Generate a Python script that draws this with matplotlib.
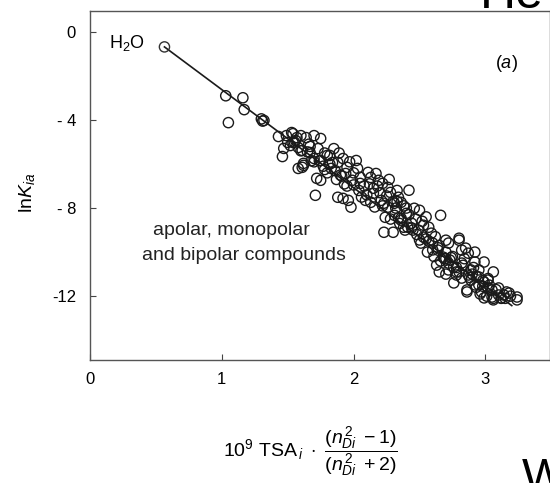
import matplotlib
matplotlib.use('Agg')
import matplotlib.pyplot as plt

plt.rcParams['font.family'] = ['Liberation Sans', 'DejaVu Sans']
plt.rcParams['mathtext.fontset'] = 'custom'
plt.rcParams['mathtext.rm'] = 'Liberation Sans'
plt.rcParams['mathtext.it'] = 'Liberation Sans:italic'

# H2O point
h2o_x = [0.565]
h2o_y = [-0.68]

# compounds
comp_x = [
    1.03, 1.16, 1.17, 1.05, 1.30, 1.32, 1.31,
    1.43, 1.47, 1.46, 1.53, 1.54, 1.57, 1.50, 1.52, 1.54, 1.58, 1.58, 1.61, 1.62, 1.61, 1.49, 1.56, 1.60,
    1.67, 1.70, 1.75, 1.82, 1.88, 1.92, 2.02, 1.95, 2.03, 1.70, 1.75, 1.80, 1.84, 1.94, 1.99, 1.62,
    1.72, 1.75, 1.71, 1.88, 1.92, 1.96, 1.98, 1.67, 1.73, 1.78, 1.82, 1.86, 1.90, 1.77, 1.68, 1.64,
    1.66, 1.85, 1.89, 1.97, 2.00, 2.05, 1.93, 1.80,
    2.11, 2.13, 2.17, 2.19, 2.22, 2.26, 2.28, 2.42, 2.34, 2.36, 2.40, 2.36, 2.41, 2.05, 2.15, 2.15,
    2.09, 2.13, 2.21, 2.26, 2.24, 2.23, 2.30, 2.04, 2.08, 2.25, 2.30, 2.32, 2.20, 2.12, 2.18, 2.38,
    2.27, 2.33,
    2.23, 2.31, 2.33, 2.46, 2.50, 2.66, 2.31, 2.36, 2.38, 2.44, 2.49, 2.53, 2.57, 2.59, 2.53, 2.51,
    2.60, 2.64, 2.68, 2.63, 2.72, 2.76, 2.72, 2.80, 2.42, 2.47, 2.55, 2.40, 2.45, 2.57, 2.62, 2.65,
    2.48, 2.56, 2.61, 2.66, 2.70, 2.35, 2.52,
    2.82, 2.87, 2.92, 2.99, 3.06, 2.95, 2.87, 2.82, 2.78, 2.89, 2.86, 2.95, 3.02, 3.05, 3.10, 3.18,
    3.24, 3.14, 2.99, 2.72, 2.70, 2.65, 2.76, 2.80, 2.90, 2.93, 2.98, 3.02, 3.06, 3.12, 3.19, 3.08,
    2.84, 2.91, 2.70, 2.75, 2.96, 3.01, 3.15,
    2.70, 2.80, 2.85, 2.92, 2.73, 2.78, 2.86, 2.92, 2.99, 3.05, 3.06, 3.12, 3.24, 2.97, 2.82, 2.89,
    2.95, 3.02, 3.10, 3.16,
    1.55, 1.60, 1.65, 1.70, 1.74, 1.78, 1.83, 1.87, 1.91, 1.95, 2.00, 2.06, 2.10, 2.16, 2.22, 2.28,
    2.34, 2.39, 2.44, 2.50, 2.55, 2.60, 2.64, 2.69, 2.74, 2.78, 2.83, 2.88, 2.93, 2.98, 3.03,
]
comp_y = [
    -2.90, -2.99, -3.53, -4.12, -3.95, -4.02, -4.05,
    -4.75, -5.29, -5.66, -4.57, -4.62, -4.80, -5.02, -5.16, -5.02, -5.25, -6.20, -5.38, -5.97, -6.15, -4.71, -4.93, -4.71,
    -5.48, -5.75, -5.84, -5.61, -5.93, -5.75, -5.84, -6.15, -6.20, -4.71, -4.84, -5.61, -5.93, -6.43, -6.74, -6.06,
    -6.65, -6.74, -7.42, -7.51, -7.56, -7.65, -7.96, -5.20, -5.30, -5.50, -6.00, -6.30, -6.50, -6.10, -5.85, -4.80,
    -5.10, -5.30, -5.50, -5.90, -6.40, -6.60, -6.90, -6.40,
    -6.38, -6.61, -6.43, -6.74, -6.88, -7.06, -7.29, -7.19, -7.51, -7.74, -8.24, -8.46, -8.87, -6.88, -7.10, -7.33,
    -7.65, -7.74, -7.65, -7.96, -8.42, -9.10, -9.10, -7.20, -7.00, -7.45, -7.70, -8.00, -7.30, -6.90, -7.00, -7.90,
    -6.70, -7.20,
    -7.78, -7.78, -7.70, -8.01, -8.10, -8.33, -8.33, -8.55, -8.87, -8.69, -9.00, -8.78, -8.87, -9.14, -9.32, -9.59,
    -9.59, -9.91, -10.23, -10.59, -10.81, -10.68, -9.59, -9.46, -8.30, -8.50, -8.40, -8.00, -9.00, -9.50, -9.30, -9.70,
    -9.20, -10.00, -10.20, -10.40, -10.00, -8.70, -8.60,
    -9.91, -10.05, -10.45, -10.45, -10.90, -10.81, -11.04, -11.18, -11.04, -11.27, -11.72, -11.49, -11.63, -12.04, -11.95, -11.86,
    -12.04, -11.95, -12.08, -10.50, -11.00, -10.90, -11.40, -10.90, -11.00, -11.60, -11.30, -11.20, -12.10, -12.10, -12.00, -11.70,
    -10.30, -10.70, -10.30, -10.20, -11.90, -12.00, -12.10,
    -9.46, -9.37, -9.82, -10.00, -10.36, -10.90, -11.81, -11.49, -11.36, -11.72, -12.17, -12.08, -12.17, -11.81, -10.50, -10.81,
    -11.13, -11.27, -11.63, -11.81,
    -5.00, -5.40, -5.45, -5.90, -5.85, -6.25, -6.20, -6.70, -6.55, -7.00, -6.95, -7.50, -7.40, -7.95, -7.90, -8.50,
    -8.45, -9.00, -8.90, -9.45, -9.40, -9.90, -9.80, -10.30, -10.25, -10.70, -10.60, -11.15, -11.10, -11.55, -11.50,
]

# regression line end points
fit_x = [0.565, 3.20]
fit_y = [-0.68, -12.43]

x_ticks = [0, 1, 2, 3]
y_ticks = [0, -4, -8, -12]
y_ticklabels = ['0', '- 4', '- 8', '-12']

fig = plt.figure(figsize=(5.5, 4.83), dpi=100)
ax = fig.add_axes([0.1636, 0.2547, 0.8364, 0.7225])

ax.plot(fit_x, fit_y, color='#1a1a1a', linewidth=1.2, zorder=2)
ax.scatter(comp_x, comp_y, s=54, facecolors='none', edgecolors='#1a1a1a',
           linewidths=1.0, zorder=3)
ax.scatter(h2o_x, h2o_y, s=54, facecolors='none', edgecolors='#333333',
           linewidths=1.0, zorder=3)

ax.set_xlim(0, 3.49)
ax.set_ylim(-14.9, 0.95)
ax.set_xticks(x_ticks)
ax.set_xticklabels([str(t) for t in x_ticks], fontsize=12)
ax.set_yticks(y_ticks)
ax.set_yticklabels(y_ticklabels, fontsize=12)
ax.tick_params(direction='in', length=4, width=0.8, color='#444444')
ax.tick_params(axis='y', pad=10)
ax.tick_params(axis='x', pad=9)

for s in ax.spines.values():
    s.set_color('#555555')
    s.set_linewidth(1.0)

ax.text(0.145, -0.5, 'H$_2$O', fontsize=13, ha='left', va='center')
ax.text(3.16, -1.45, '($a$)', fontsize=13, ha='center', va='center')
ax.text(1.076, -9.0, 'apolar, monopolar', fontsize=14,
        ha='center', va='center', color='#222222')
ax.text(1.168, -10.14, 'and bipolar compounds', fontsize=14,
        ha='center', va='center', color='#222222')

ax.set_ylabel('ln$K_{ia}$', fontsize=14)
ax.yaxis.set_label_coords(-0.116, 0.48)
fig.text(0.565, 0.065,
         r'$10^9\ \mathrm{TSA}_{\,i}\ \cdot\ \dfrac{(n_{Di}^{\,2}\ -1)}{(n_{Di}^{\,2}\ +2)}$',
         fontsize=14, ha='center', va='center')

# pieces of neighbouring figures cut by the scan
fig.text(0.873, 0.983, 'He', fontsize=36, ha='left', va='baseline')
fig.text(0.948, 0.054, 'W', fontsize=34, ha='left', va='top')

fig.savefig('out.png', dpi=100)
